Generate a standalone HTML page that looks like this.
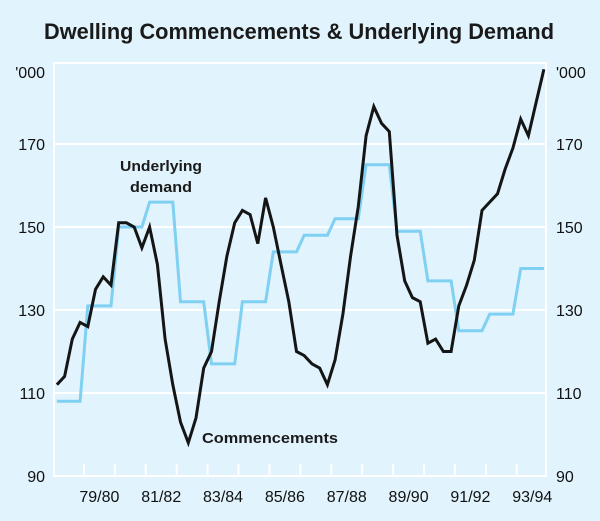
<!DOCTYPE html>
<html><head><meta charset="utf-8"><style>
html,body{margin:0;padding:0;background:#e1f3fd;}
svg{display:block;font-family:"Liberation Sans",Arial,sans-serif;}
</style></head><body>
<svg id="chart" width="600" height="521" viewBox="0 0 600 521">
<rect x="0" y="0" width="600" height="521" fill="#e1f3fd"/>
<text x="299" y="39" text-anchor="middle" font-size="22" font-weight="bold" fill="#1a1a1a" textLength="510" lengthAdjust="spacingAndGlyphs">Dwelling Commencements &amp; Underlying Demand</text>
<g id="grid"></g>
<g id="axes"></g>
<g id="series"></g>
<text x="161" y="171" text-anchor="middle" font-size="15" font-weight="600" fill="#1a1a1a" textLength="82" lengthAdjust="spacingAndGlyphs">Underlying</text>
<text x="161" y="192" text-anchor="middle" font-size="15" font-weight="600" fill="#1a1a1a" textLength="62" lengthAdjust="spacingAndGlyphs">demand</text>
<text x="202" y="443" font-size="15" font-weight="600" fill="#1a1a1a" textLength="136" lengthAdjust="spacingAndGlyphs">Commencements</text>
</svg>
<script>
const yTicks = [90, 110, 130, 150, 170];
const yearLabels = ["79/80", "81/82", "83/84", "85/86", "87/88", "89/90", "91/92", "93/94"];
const commencements = [112,114,123,127,126,135,138,136,151,151,150,145,150,141,123,112,103,98,104,116,120,132,143,151,154,153,146,157,150,141,132,120,119,117,116,112,118,129,143,155,172,179,175,173,148,137,133,132,122,123,120,120,131,136,142,154,156,158,164,169,176,172,180,188];
const demand = [108,108,108,108,131,131,131,131,150,150,150,150,156,156,156,156,132,132,132,132,117,117,117,117,132,132,132,132,144,144,144,144,148,148,148,148,152,152,152,152,165,165,165,165,149,149,149,149,137,137,137,137,125,125,125,125,129,129,129,129,140,140,140,140];

const NS = "http://www.w3.org/2000/svg";
const L = 54, R = 546, T = 63, B = 476;
const x0 = 53, qW = 7.73;
function xq(i){ return x0 + qW * (i + 0.5); }
function xYear(k){ return x0 + qW * 4 * k; }
function y(v){ return B - (v - 90) * (B - 393) / 20; }
function mk(tag, attrs, parent){
  const e = document.createElementNS(NS, tag);
  for (const k in attrs) e.setAttribute(k, attrs[k]);
  parent.appendChild(e); return e;
}
const grid = document.getElementById('grid');
const axes = document.getElementById('axes');
const series = document.getElementById('series');

const frame = mk('rect', {x:L, y:T, width:R-L, height:B-T, fill:'none', stroke:'#ffffff', 'stroke-width':2}, grid);



yTicks.forEach(v => {
  const yy = y(v);
  const g = mk('line', {x1:L, x2:R, y1:yy, y2:yy, stroke:'#ffffff', 'stroke-width':2}, grid);
  
  
  const tl = mk('text', {x:45, y:yy+6, 'text-anchor':'end', 'font-size':16, fill:'#111'}, axes);
  tl.textContent = v;
  
  
  const tr = mk('text', {x:556, y:yy+6, 'font-size':16, fill:'#111'}, axes);
  tr.textContent = v;
  
  
});
const ul = mk('text', {x:45, y:78, 'text-anchor':'end', 'font-size':16, fill:'#111'}, axes);
ul.textContent = "'000";


const ur = mk('text', {x:556, y:78, 'font-size':16, fill:'#111'}, axes);
ur.textContent = "'000";



for (let k = 1; k < 16; k++){
  const xx = xYear(k);
  const t = mk('line', {x1:xx, x2:xx, y1:B, y2:B-12, stroke:'#ffffff', 'stroke-width':2}, grid);
  
  
}
yearLabels.forEach((lab, j) => {
  const cx = (xYear(1 + 2*j) + xYear(2 + 2*j)) / 2;
  const t = mk('text', {x:cx, y:502, 'text-anchor':'middle', 'font-size':16, fill:'#111'}, axes);
  t.textContent = lab;
  
  
});

const dPts = demand.map((v,i) => xq(i).toFixed(1) + ',' + y(v).toFixed(1)).join(' ');
const dl = mk('polyline', {points:dPts, fill:'none', stroke:'#7fd0f2', 'stroke-width':3, 'stroke-linejoin':'miter'}, series);



const cPts = commencements.map((v,i) => xq(i).toFixed(1) + ',' + y(v).toFixed(1)).join(' ');
const cl = mk('polyline', {points:cPts, fill:'none', stroke:'#151515', 'stroke-width':3, 'stroke-linejoin':'miter'}, series);


</script>
</body></html>
